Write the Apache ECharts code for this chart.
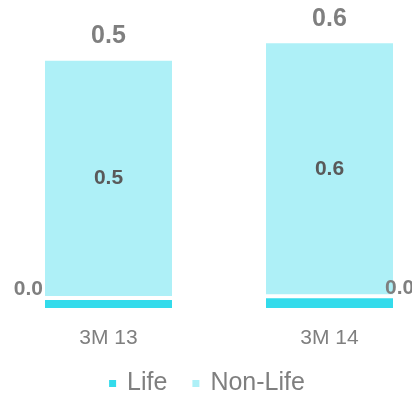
<!DOCTYPE html>
<html>
<head>
<meta charset="utf-8">
<style>
html,body{margin:0;padding:0;background:#fff;}
#c{width:412px;height:393px;}
</style>
<script src="https://cdn.jsdelivr.net/npm/echarts@6/dist/echarts.min.js"></script>
</head>
<body>
<div id="c"></div>
<script>
const categories = ['3M 13', '3M 14'];
const lifeValues = [0.026, 0.030];
const nonLifeValues = [0.520, 0.554];
const seriesNames = ['Life', 'Non-Life'];

const totals = categories.map((_, i) => lifeValues[i] + nonLifeValues[i]);
const FONT = '"Liberation Sans", Arial, sans-serif';

const chart = echarts.init(document.getElementById('c'), null, {renderer: 'canvas'});
chart.setOption({
  animation: false,
  backgroundColor: '#ffffff',
  grid: {left: -2, width: 442, top: 34, bottom: 83, containLabel: false, outerBoundsMode: 'none'},
  legend: {
    data: seriesNames,
    top: 366,
    left: 'center',
    icon: 'rect',
    itemWidth: 9,
    itemHeight: 9,
    itemGap: 23,
    textStyle: {color: '#7f7f7f', fontSize: 25, fontFamily: FONT, padding: [0, 0, 0, 5]}
  },
  xAxis: {
    type: 'category',
    data: categories,
    axisLine: {show: false},
    axisTick: {show: false},
    axisLabel: {color: '#7f7f7f', fontSize: 21, fontFamily: FONT, margin: 18}
  },
  yAxis: {
    type: 'value',
    min: 0,
    max: 0.6,
    show: false,
    splitLine: {show: false}
  },
  series: [
    {
      name: 'Life',
      type: 'bar',
      stack: 'a',
      barWidth: 131,
      itemStyle: {color: '#33dbeb', borderColor: '#ffffff', borderWidth: 2},
      label: {
        show: true,
        color: '#7f7f7f',
        fontSize: 21,
        fontWeight: 'bold',
        fontFamily: FONT,
        formatter: p => p.value.toFixed(1)
      },
      data: lifeValues.map((v, i) => ({
        value: v,
        label: i === 0
          ? {position: 'left', distance: 0, offset: [0, -15]}
          : {position: 'right', distance: 0, offset: [-10, -15]}
      }))
    },
    {
      name: 'Non-Life',
      type: 'bar',
      stack: 'a',
      barWidth: 131,
      itemStyle: {color: '#aef0f7', borderColor: '#ffffff', borderWidth: 2},
      label: {
        show: true,
        position: 'inside',
        color: '#595959',
        fontSize: 21,
        fontWeight: 'bold',
        fontFamily: FONT,
        formatter: p => p.value.toFixed(1)
      },
      data: nonLifeValues
    },
    {
      name: 'Total',
      type: 'bar',
      stack: 'a',
      barWidth: 131,
      itemStyle: {color: 'transparent'},
      label: {
        show: true,
        position: 'top',
        distance: 10,
        color: '#7f7f7f',
        fontSize: 25,
        fontWeight: 'bold',
        fontFamily: FONT,
        formatter: p => totals[p.dataIndex].toFixed(1)
      },
      data: categories.map(() => 0)
    }
  ]
});
</script>
</body>
</html>
